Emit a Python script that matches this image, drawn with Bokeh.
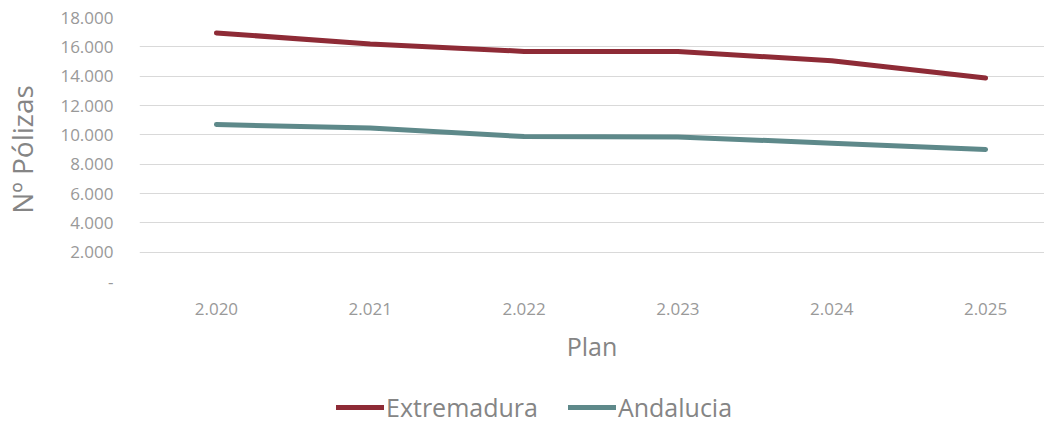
from bokeh.plotting import figure
from bokeh.models import Range1d, FixedTicker, Legend, LegendItem
from bokeh.layouts import column
from bokeh.embed import file_html
from bokeh.resources import INLINE

years = [2020, 2021, 2022, 2023, 2024, 2025]
year_labels = ["2.020", "2.021", "2.022", "2.023", "2.024", "2.025"]
extremadura = [16950, 16190, 15690, 15690, 15050, 13880]
andalucia = [10700, 10470, 9880, 9860, 9430, 9000]
y_ticks = [0, 2000, 4000, 6000, 8000, 10000, 12000, 14000, 16000, 18000]
y_labels = ["-", "2.000", "4.000", "6.000", "8.000", "10.000", "12.000", "14.000", "16.000", "18.000"]
series_names = ["Extremadura", "Andalucia"]
series_colors = ["#8E2B36", "#5E898A"]

FONT = "Open Sans"
GREY = "#999999"

p = figure(width=1044, height=380, output_backend="svg", toolbar_location=None,
           x_range=Range1d(2019.5, 2025.383), y_range=Range1d(0, 18000),
           min_border_left=138, min_border_right=0, min_border_top=17, min_border_bottom=99)
p.outline_line_color = None
p.background_fill_color = "white"

p.line(years, extremadura, line_color=series_colors[0], line_width=5, line_cap="round", line_join="round")
p.line(years, andalucia, line_color=series_colors[1], line_width=5, line_cap="round", line_join="round")

p.xgrid.visible = False
p.ygrid.grid_line_color = "#d9d9d9"
p.ygrid.grid_line_width = 1
p.yaxis.ticker = FixedTicker(ticks=y_ticks)
p.xaxis.ticker = FixedTicker(ticks=years)
p.yaxis.major_label_overrides = {t: l for t, l in zip(y_ticks, y_labels)}
p.xaxis.major_label_overrides = {t: l for t, l in zip(years, year_labels)}

for ax in (p.xaxis[0], p.yaxis[0]):
    ax.axis_line_color = None
    ax.major_tick_line_color = None
    ax.minor_tick_line_color = None
    ax.major_label_text_font = FONT
    ax.major_label_text_font_size = "17px"
    ax.major_label_text_color = GREY
    ax.axis_label_text_font = FONT
    ax.axis_label_text_font_style = "normal"
    ax.axis_label_text_color = "#858585"

p.yaxis.major_label_standoff = 20
p.xaxis.major_label_standoff = 15
p.yaxis.axis_label = "Nº Pólizas"
p.yaxis.axis_label_text_font_size = "28px"
p.yaxis.axis_label_standoff = 16
p.xaxis.axis_label = "Plan"
p.xaxis.axis_label_text_font_size = "25px"
p.xaxis.axis_label_standoff = 11

# legend strip below the chart
lg = figure(width=1044, height=44, output_backend="svg", toolbar_location=None,
            x_range=Range1d(0, 1), y_range=Range1d(0, 1),
            min_border_left=0, min_border_right=0, min_border_top=0, min_border_bottom=0)
lg.outline_line_color = None
lg.xaxis.visible = False
lg.yaxis.visible = False
lg.grid.visible = False
# series drawn outside this strip's ranges; only their legend glyphs show
lr1 = lg.line(years, extremadura, line_color=series_colors[0], line_width=5, line_cap="round")
lr2 = lg.line(years, andalucia, line_color=series_colors[1], line_width=5, line_cap="round")
legend = Legend(items=[LegendItem(label=series_names[0], renderers=[lr1]),
                       LegendItem(label=series_names[1], renderers=[lr2])],
                orientation="horizontal", location=(197, 0),
                label_text_font=FONT, label_text_font_size="25px", label_text_color="#858585",
                glyph_width=48, glyph_height=26, spacing=30, label_standoff=2,
                border_line_color=None, background_fill_alpha=0, padding=0, margin=0)
lg.add_layout(legend, "center")

layout = column(p, lg, spacing=0)
open("out.html", "w").write(file_html(layout, INLINE))
